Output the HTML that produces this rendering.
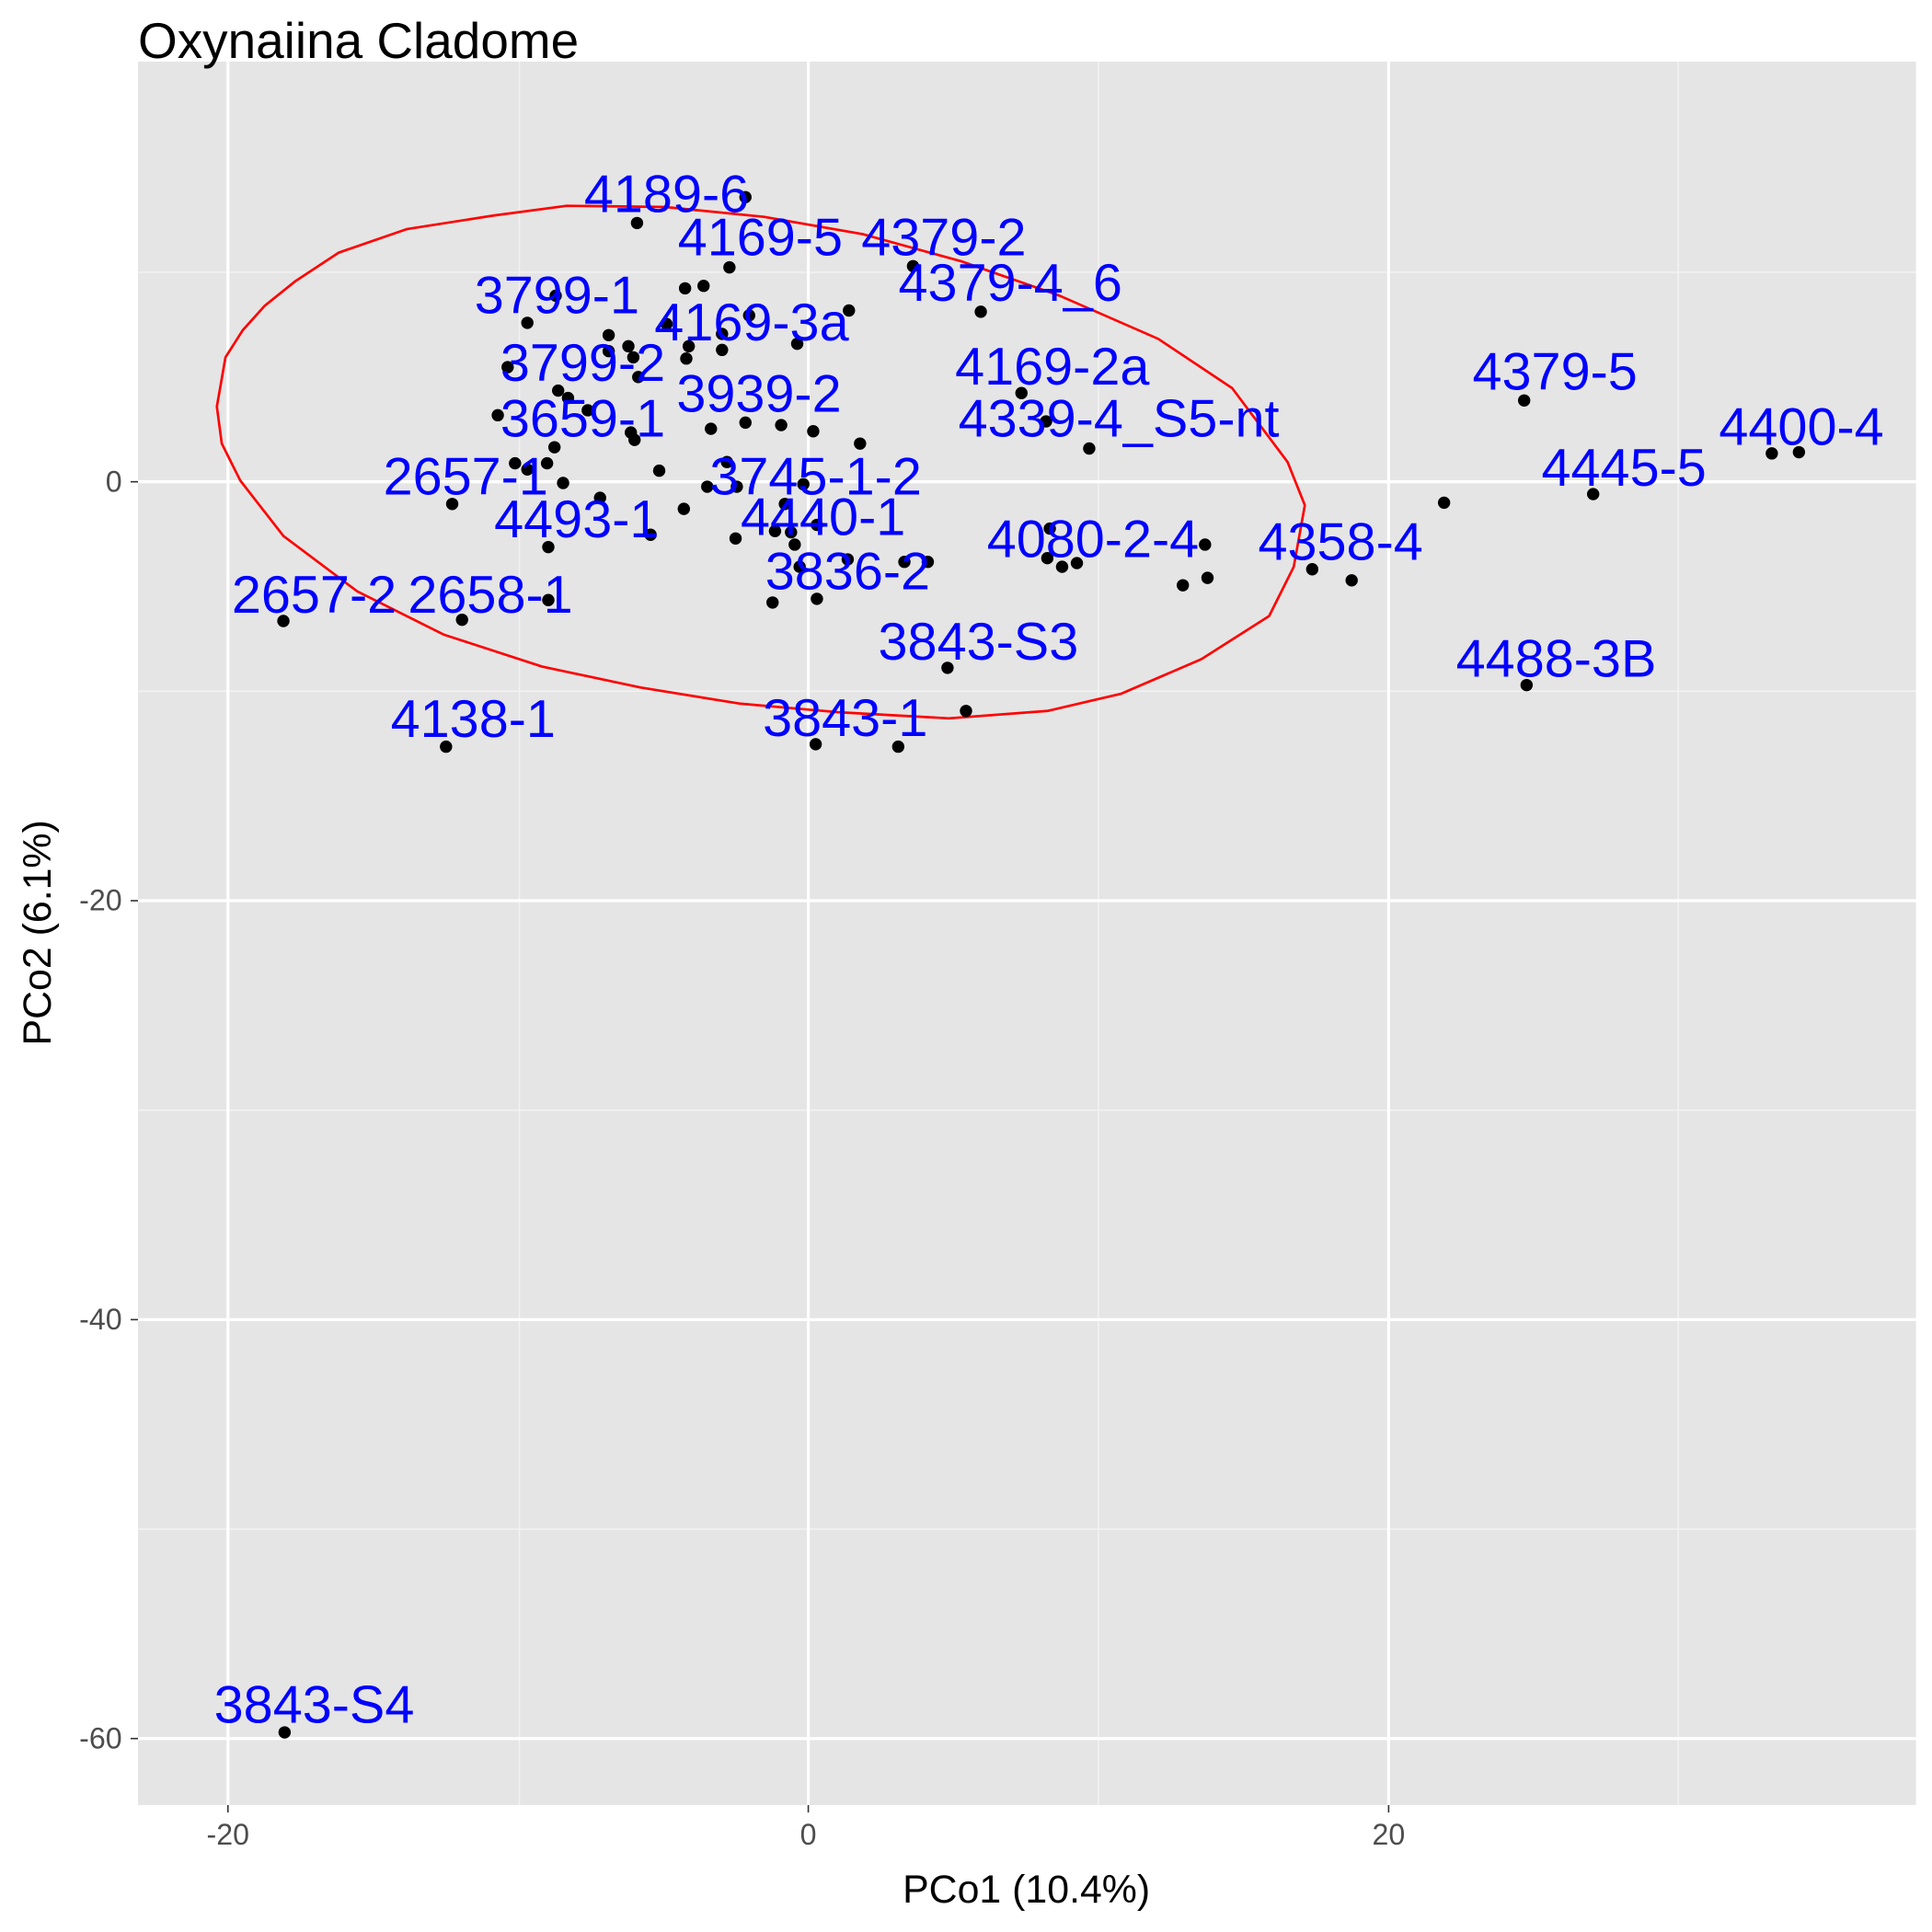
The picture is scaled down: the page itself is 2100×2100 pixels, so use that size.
<!DOCTYPE html>
<html><head><meta charset="utf-8"><style>html,body{margin:0;padding:0;background:#fff}svg{display:block}</style></head>
<body>
<svg width="2100" height="2100" viewBox="0 0 1568 1568" xmlns="http://www.w3.org/2000/svg" font-family="Liberation Sans, sans-serif">
<rect x="0" y="0" width="1568" height="1568" fill="#fff"/>
<rect x="112" y="50" width="1443" height="1415" fill="#e5e5e5"/>
<g stroke="#f2f2f2" stroke-width="1.2">
<line x1="421.5" y1="50" x2="421.5" y2="1465"/><line x1="891.5" y1="50" x2="891.5" y2="1465"/><line x1="1362" y1="50" x2="1362" y2="1465"/>
<line x1="112" y1="221" x2="1555" y2="221"/><line x1="112" y1="561" x2="1555" y2="561"/><line x1="112" y1="901" x2="1555" y2="901"/><line x1="112" y1="1241" x2="1555" y2="1241"/>
</g>
<g stroke="#fff" stroke-width="2.4">
<line x1="185" y1="50" x2="185" y2="1465"/><line x1="656" y1="50" x2="656" y2="1465"/><line x1="1127" y1="50" x2="1127" y2="1465"/>
<line x1="112" y1="391" x2="1555" y2="391"/><line x1="112" y1="731" x2="1555" y2="731"/><line x1="112" y1="1071" x2="1555" y2="1071"/><line x1="112" y1="1411" x2="1555" y2="1411"/>
</g>
<g stroke="#333" stroke-width="1.2">
<line x1="185" y1="1465" x2="185" y2="1471"/><line x1="656" y1="1465" x2="656" y2="1471"/><line x1="1127" y1="1465" x2="1127" y2="1471"/>
<line x1="106" y1="391" x2="112" y2="391"/><line x1="106" y1="731" x2="112" y2="731"/><line x1="106" y1="1071" x2="112" y2="1071"/><line x1="106" y1="1411" x2="112" y2="1411"/>
</g>
<g fill="#4d4d4d" font-size="24">
<text x="185" y="1497" text-anchor="middle">-20</text><text x="656" y="1497" text-anchor="middle">0</text><text x="1127" y="1497" text-anchor="middle">20</text>
<text x="99" y="399" text-anchor="end">0</text><text x="99" y="739" text-anchor="end">-20</text><text x="99" y="1079" text-anchor="end">-40</text><text x="99" y="1419" text-anchor="end">-60</text>
</g>
<text x="833" y="1544" text-anchor="middle" font-size="32">PCo1 (10.4%)</text>
<text transform="translate(41,757) rotate(-90)" text-anchor="middle" font-size="32">PCo2 (6.1%)</text>
<text x="112" y="47" font-size="41">Oxynaiina Cladome</text>
<polygon points="176,330 183,290 197,268 215,248 240,228 275,205 330,186 400,175 460,167 540,168 620,176 700,190 780,212 860,240 940,275 1000,315 1045,375 1059,410 1050,460 1030,500 975,535 910,563 850,577 770,583 680,578 600,571 520,558 440,541 360,515 290,480 230,435 195,390 180,360" fill="none" stroke="#ff0000" stroke-width="2" stroke-linejoin="round"/>
<g fill="#000">
<circle cx="605" cy="160" r="5"/><circle cx="517" cy="181" r="5"/><circle cx="592" cy="217" r="5"/><circle cx="741" cy="216" r="5"/><circle cx="556" cy="234" r="5"/><circle cx="571" cy="232" r="5"/><circle cx="451" cy="240" r="5"/><circle cx="796" cy="253" r="5"/><circle cx="689" cy="252" r="5"/><circle cx="428" cy="262" r="5"/><circle cx="608" cy="256" r="5"/><circle cx="541" cy="263" r="5"/><circle cx="494" cy="272" r="5"/><circle cx="586" cy="271" r="5"/><circle cx="510" cy="281" r="5"/><circle cx="647" cy="279" r="5"/><circle cx="494" cy="285" r="5"/><circle cx="559" cy="281" r="5"/><circle cx="514" cy="290" r="5"/><circle cx="586" cy="284" r="5"/><circle cx="557" cy="291" r="5"/><circle cx="518" cy="306" r="5"/><circle cx="412" cy="298" r="5"/><circle cx="829" cy="319" r="5"/><circle cx="1237" cy="325" r="5"/><circle cx="453" cy="317" r="5"/><circle cx="461" cy="323" r="5"/><circle cx="477" cy="333" r="5"/><circle cx="404" cy="337" r="5"/><circle cx="849" cy="342" r="5"/><circle cx="605" cy="343" r="5"/><circle cx="634" cy="345" r="5"/><circle cx="577" cy="348" r="5"/><circle cx="660" cy="350" r="5"/><circle cx="512" cy="351" r="5"/><circle cx="515" cy="357" r="5"/><circle cx="698" cy="360" r="5"/><circle cx="884" cy="364" r="5"/><circle cx="450" cy="363" r="5"/><circle cx="1438" cy="368" r="5"/><circle cx="1460" cy="367" r="5"/><circle cx="418" cy="376" r="5"/><circle cx="444" cy="376" r="5"/><circle cx="428" cy="381" r="5"/><circle cx="457" cy="392" r="5"/><circle cx="535" cy="382" r="5"/><circle cx="590" cy="375" r="5"/><circle cx="574" cy="395" r="5"/><circle cx="598" cy="395" r="5"/><circle cx="652" cy="393" r="5"/><circle cx="487" cy="404" r="5"/><circle cx="555" cy="413" r="5"/><circle cx="367" cy="409" r="5"/><circle cx="1172" cy="408" r="5"/><circle cx="1293" cy="401" r="5"/><circle cx="637" cy="409" r="5"/><circle cx="663" cy="426" r="5"/><circle cx="852" cy="429" r="5"/><circle cx="629" cy="431" r="5"/><circle cx="642" cy="432" r="5"/><circle cx="528" cy="434" r="5"/><circle cx="597" cy="437" r="5"/><circle cx="645" cy="442" r="5"/><circle cx="978" cy="442" r="5"/><circle cx="445" cy="444" r="5"/><circle cx="850" cy="453" r="5"/><circle cx="688" cy="454" r="5"/><circle cx="874" cy="457" r="5"/><circle cx="734" cy="456" r="5"/><circle cx="753" cy="456" r="5"/><circle cx="862" cy="460" r="5"/><circle cx="1065" cy="462" r="5"/><circle cx="649" cy="460" r="5"/><circle cx="980" cy="469" r="5"/><circle cx="1097" cy="471" r="5"/><circle cx="960" cy="475" r="5"/><circle cx="627" cy="489" r="5"/><circle cx="663" cy="486" r="5"/><circle cx="445" cy="487" r="5"/><circle cx="230" cy="504" r="5"/><circle cx="375" cy="503" r="5"/><circle cx="769" cy="542" r="5"/><circle cx="1239" cy="556" r="5"/><circle cx="784" cy="577" r="5"/><circle cx="362" cy="606" r="5"/><circle cx="662" cy="604" r="5"/><circle cx="729" cy="606" r="5"/><circle cx="231" cy="1406" r="5"/>
</g>
<g fill="#0000ff" font-size="43" text-anchor="middle" dominant-baseline="central">
<text x="541" y="158">4189-6</text><text x="617" y="193">4169-5</text><text x="766" y="193">4379-2</text><text x="452" y="240">3799-1</text><text x="820" y="230">4379-4_6</text><text x="610" y="262">4169-3a</text><text x="854" y="298">4169-2a</text><text x="473" y="295">3799-2</text><text x="1262" y="302">4379-5</text><text x="616" y="320">3939-2</text><text x="473" y="340">3659-1</text><text x="908" y="340">4339-4_S5-nt</text><text x="1462" y="347">4400-4</text><text x="378" y="387">2657-1</text><text x="662" y="387">3745-1-2</text><text x="1318" y="380">4445-5</text><text x="468" y="422">4493-1</text><text x="668" y="420">4440-1</text><text x="887" y="438">4080-2-4</text><text x="1088" y="440">4358-4</text><text x="688" y="464">3836-2</text><text x="255" y="483">2657-2</text><text x="398" y="483">2658-1</text><text x="794" y="521">3843-S3</text><text x="1263" y="535">4488-3B</text><text x="384" y="584">4138-1</text><text x="686" y="583">3843-1</text><text x="255" y="1384">3843-S4</text>
</g>
</svg>
</body></html>
